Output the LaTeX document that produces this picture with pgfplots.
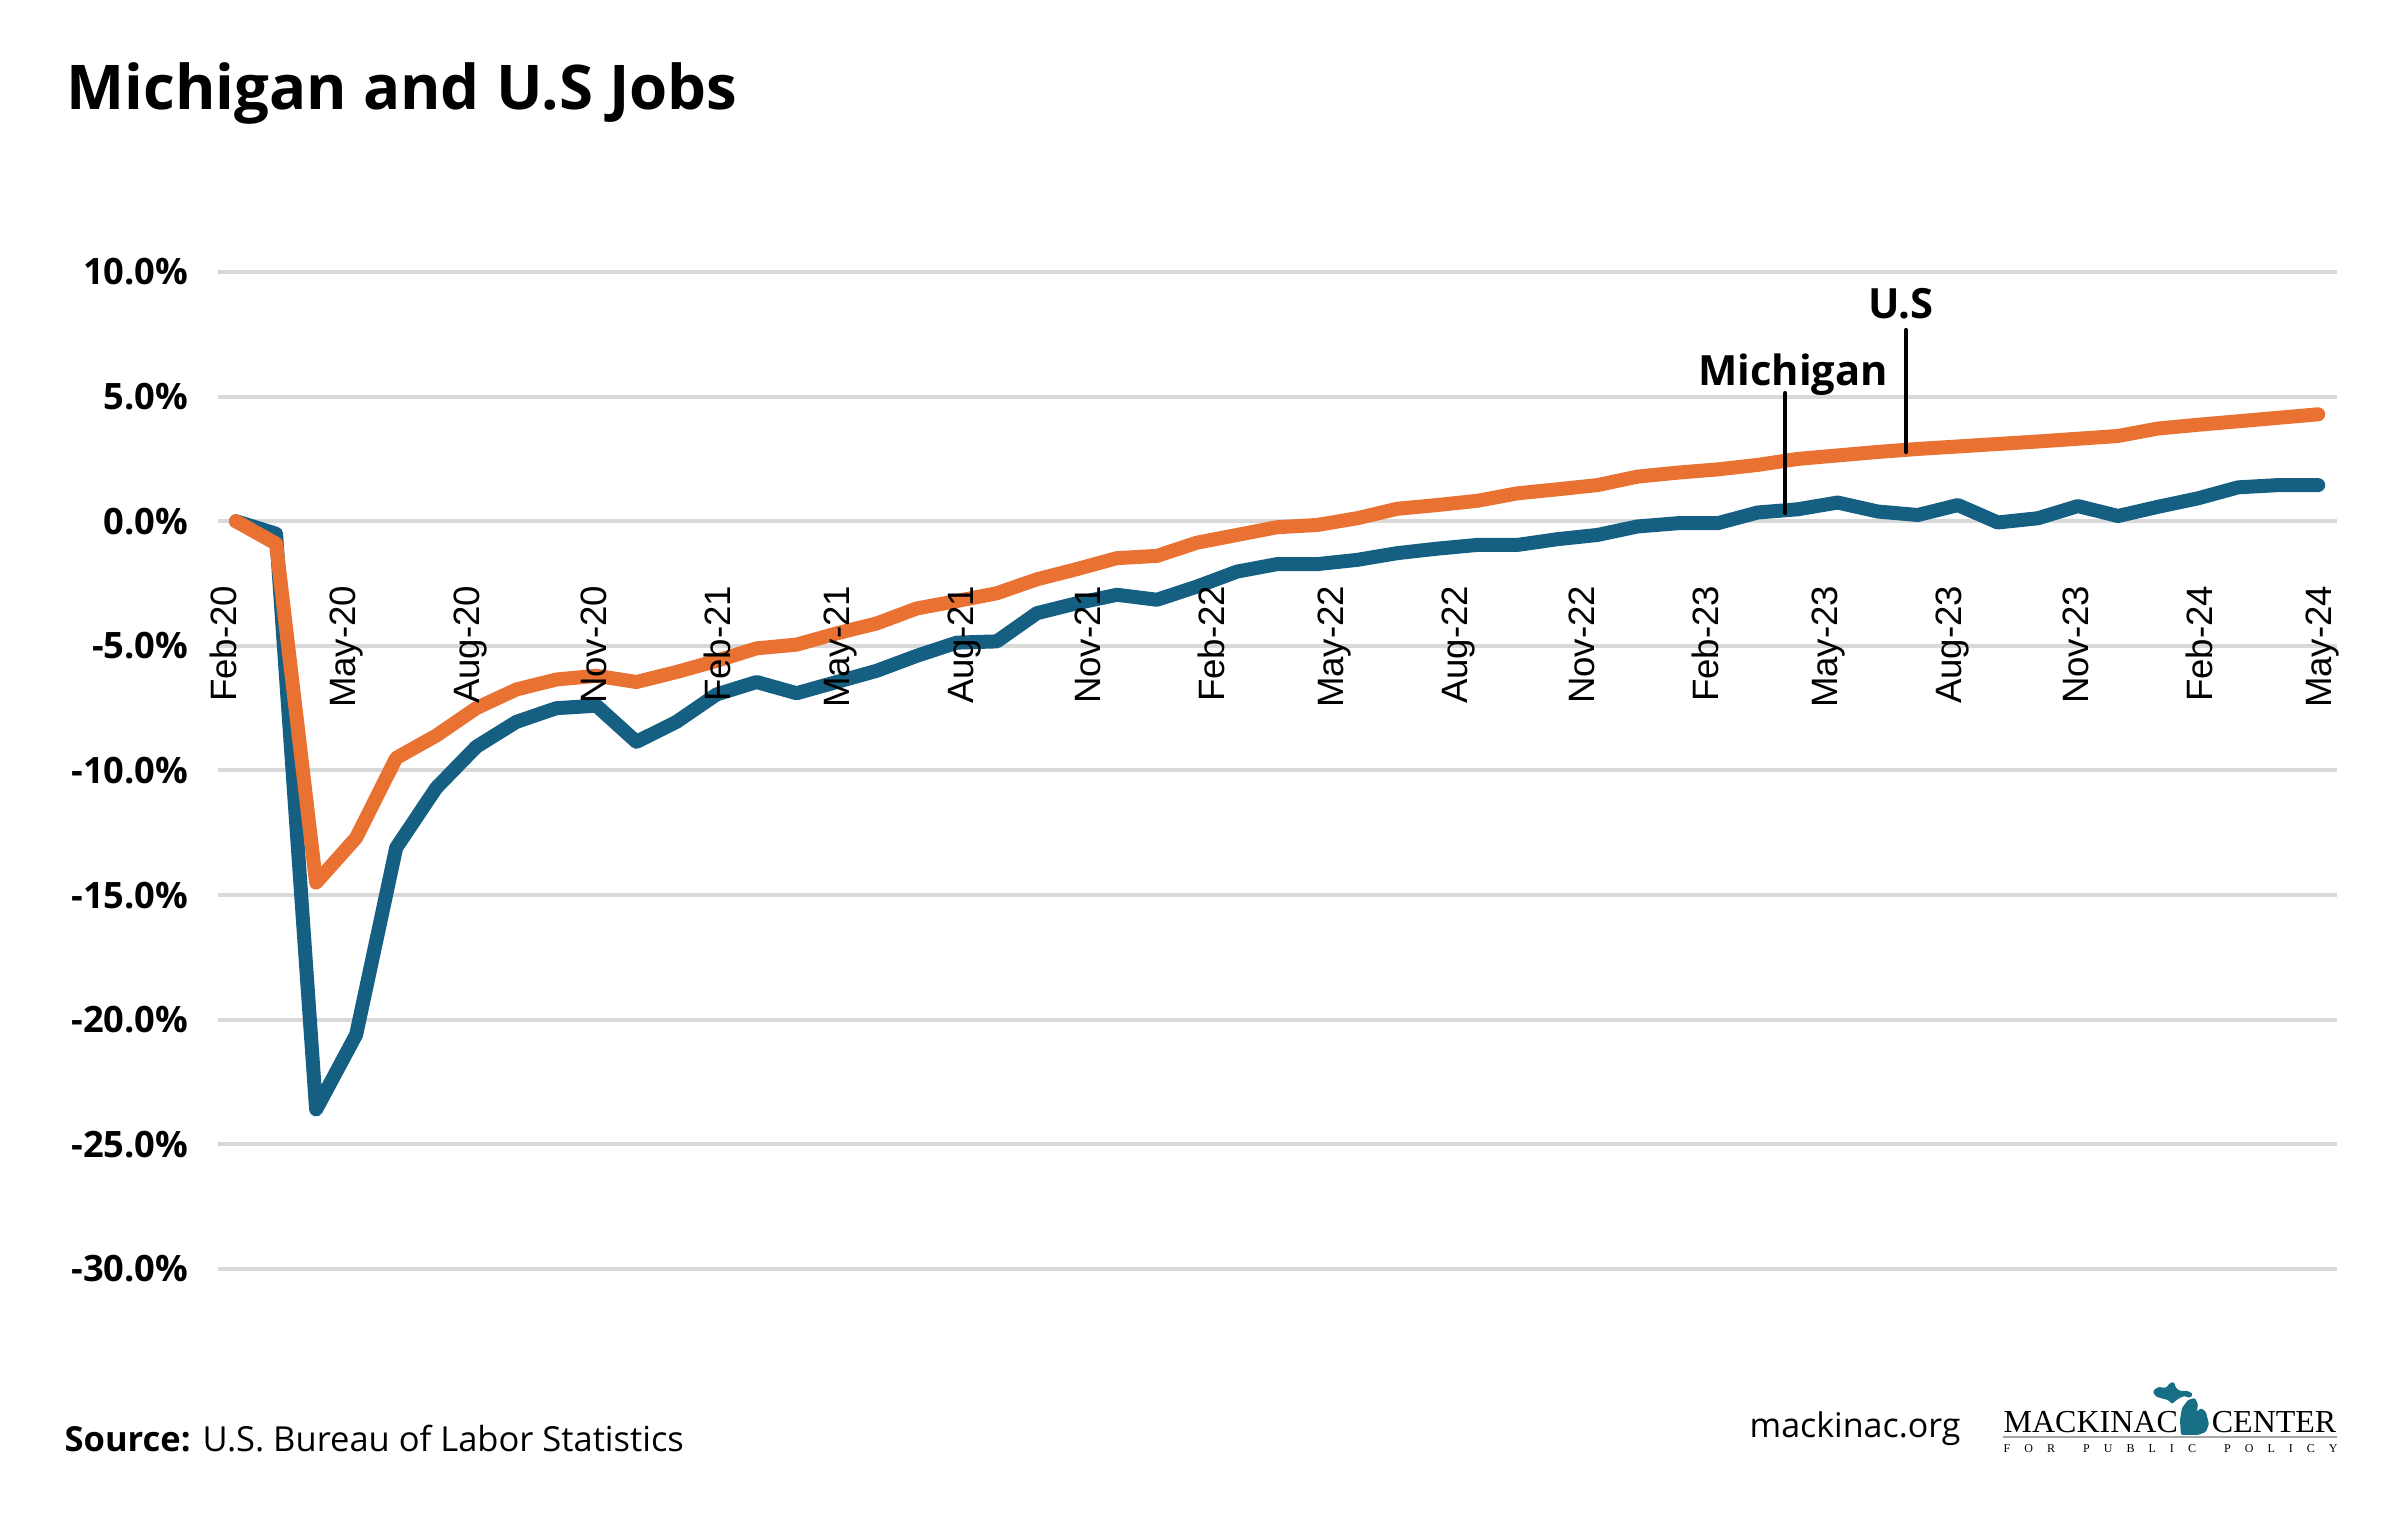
\documentclass[border=0pt]{standalone}
\usepackage{fontspec}
\setmainfont{Open Sans}
\newfontfamily\arialfont{Liberation Sans}
\newfontfamily\seriffont{Liberation Serif}
\usepackage{pgfplots}
\usepackage{pgfplotstable}
\pgfplotsset{compat=1.18}

\definecolor{mich}{HTML}{156082}
\definecolor{usa}{HTML}{E97132}
\definecolor{gridgray}{HTML}{D9D9D9}
\definecolor{logoteal}{HTML}{176E85}

% month index (0 = Feb-20), Michigan and U.S. jobs, % change since Feb-20
\pgfplotstableread{
i   mi      us
0   0       0
1   -0.5    -0.9
2   -23.6   -14.5
3   -20.6   -12.7
4   -13.1   -9.5
5   -10.7   -8.6
6   -9.05   -7.5
7   -8.05   -6.75
8   -7.5    -6.35
9   -7.4    -6.2
10  -8.85   -6.45
11  -8.05   -6.05
12  -6.95   -5.6
13  -6.45   -5.1
14  -6.9    -4.95
15  -6.45   -4.5
16  -6.0    -4.1
17  -5.4    -3.5
18  -4.87   -3.2
19  -4.82   -2.89
20  -3.69   -2.33
21  -3.29   -1.92
22  -2.95   -1.48
23  -3.15   -1.39
24  -2.62   -0.86
25  -2.02   -0.55
26  -1.72   -0.24
27  -1.72   -0.15
28  -1.55   0.12
29  -1.28   0.5
30  -1.1    0.65
31  -0.95   0.82
32  -0.95   1.12
33  -0.72   1.28
34  -0.55   1.45
35  -0.21   1.79
36  -0.08   1.95
37  -0.08   2.08
38  0.35    2.26
39  0.48    2.5
40  0.75    2.64
41  0.39    2.78
42  0.25    2.9
43  0.65    3.0
44  -0.05   3.1
45  0.12    3.2
46  0.61    3.31
47  0.21    3.42
48  0.58    3.72
49  0.92    3.87
50  1.36    4.01
51  1.45    4.15
52  1.45    4.29
}\jobsdata

\begin{document}
\begin{tikzpicture}
\useasboundingbox (0,0) rectangle (720bp,454.8bp);
\begin{axis}[
  at={(65.4bp,74.1bp)}, anchor=south west,
  scale only axis, width=635.7bp, height=299.1bp,
  xmin=-0.45, xmax=52.47, ymin=-30, ymax=10,
  axis line style={draw=none},
  xtick=\empty,
  ytick={-30,-25,...,10},
  yticklabels={-30.0\%,-25.0\%,-20.0\%,-15.0\%,-10.0\%,-5.0\%,0.0\%,5.0\%,10.0\%},
  yticklabel style={font=\bfseries\fontsize{10.9bp}{12bp}\selectfont, anchor=east, inner sep=0pt, xshift=-8.7bp},
  major tick length=0pt,
  ymajorgrids, grid style={gridgray, line width=1.2bp},
  clip=false,
]
\addplot[mich, line width=4.2bp, line cap=round, line join=round] table[x=i, y=mi] {\jobsdata};
\addplot[usa, line width=4.2bp, line cap=round, line join=round] table[x=i, y=us] {\jobsdata};

% series labels with pointers
\draw[line width=1.3bp, line cap=round] (axis cs:38.69,5.14) -- (axis cs:38.69,0.33);
\draw[line width=1.3bp, line cap=round] (axis cs:41.71,7.67) -- (axis cs:41.71,2.78);
\node[anchor=base, inner sep=0pt, font=\bfseries\fontsize{12.5bp}{14bp}\selectfont] at (axis cs:38.89,5.46) {Michigan};
\node[anchor=base, inner sep=0pt, font=\bfseries\fontsize{12.5bp}{14bp}\selectfont] at (axis cs:41.58,8.15) {U.S};

% month labels, rotated, hanging below the zero line
\tikzset{mlab/.style={rotate=90, anchor=east, inner sep=0pt, font=\arialfont\fontsize{11bp}{12bp}\selectfont}}
\node[mlab] at (axis cs:-0.325,-2.56) {Feb-20};
\node[mlab] at (axis cs:2.760,-2.56) {May-20};
\node[mlab] at (axis cs:5.844,-2.56) {Aug-20};
\node[mlab] at (axis cs:8.929,-2.56) {Nov-20};
\node[mlab] at (axis cs:12.013,-2.56) {Feb-21};
\node[mlab] at (axis cs:15.098,-2.56) {May-21};
\node[mlab] at (axis cs:18.182,-2.56) {Aug-21};
\node[mlab] at (axis cs:21.267,-2.56) {Nov-21};
\node[mlab] at (axis cs:24.351,-2.56) {Feb-22};
\node[mlab] at (axis cs:27.436,-2.56) {May-22};
\node[mlab] at (axis cs:30.520,-2.56) {Aug-22};
\node[mlab] at (axis cs:33.605,-2.56) {Nov-22};
\node[mlab] at (axis cs:36.689,-2.56) {Feb-23};
\node[mlab] at (axis cs:39.774,-2.56) {May-23};
\node[mlab] at (axis cs:42.858,-2.56) {Aug-23};
\node[mlab] at (axis cs:45.943,-2.56) {Nov-23};
\node[mlab] at (axis cs:49.027,-2.56) {Feb-24};
\node[mlab] at (axis cs:52.112,-2.56) {May-24};
\end{axis}

% title, footer and logo, placed in pixel units of the reference
\begin{scope}[shift={(0bp,454.8bp)}, x=0.3bp, y=-0.3bp]
\node[anchor=base west, inner sep=0pt, font=\bfseries\fontsize{18.5bp}{22bp}\selectfont] at (66,110) {Michigan and U.S Jobs};
\node[anchor=base west, inner sep=0pt, font=\fontsize{10.35bp}{12bp}\selectfont] at (64,1452) {\textbf{Source:} U.S. Bureau of Labor Statistics};
\node[anchor=base west, inner sep=0pt, font=\fontsize{10.2bp}{12bp}\selectfont] at (1749,1438) {mackinac.org};

\node[anchor=base west, inner sep=0pt, font=\seriffont\fontsize{9.6bp}{10bp}\selectfont] at (2003,1433) {MACKINAC};
\node[anchor=base east, inner sep=0pt, font=\seriffont\fontsize{9.6bp}{10bp}\selectfont] at (2337,1433) {CENTER};
\draw[gray!70, line width=0.6bp] (2003,1437) -- (2337,1437);
\node[anchor=base west, inner sep=0pt, font=\seriffont\fontsize{3.6bp}{4bp}\selectfont] at (2003,1453)
  {\hbox to 100.2bp{F\hfill O\hfill R\hfill\hfill P\hfill U\hfill B\hfill L\hfill I\hfill C\hfill\hfill P\hfill O\hfill L\hfill I\hfill C\hfill Y}};
\fill[logoteal, rounded corners=0.4bp]
  (2153,1391) -- (2158,1387) -- (2166,1388) -- (2170,1383) -- (2174,1382) -- (2176,1388)
  -- (2180,1391) -- (2188,1391) -- (2193,1394) -- (2190,1398) -- (2184,1396) -- (2178,1399)
  -- (2172,1404) -- (2168,1400) -- (2160,1398) -- (2155,1396) -- cycle;
\fill[logoteal, rounded corners=0.4bp]
  (2181,1435) -- (2180,1420) -- (2182,1408) -- (2188,1400) -- (2195,1398) -- (2198,1404)
  -- (2197,1412) -- (2201,1408) -- (2206,1412) -- (2209,1424) -- (2206,1432) -- (2198,1435) -- cycle;
\end{scope}
\end{tikzpicture}
\end{document}
